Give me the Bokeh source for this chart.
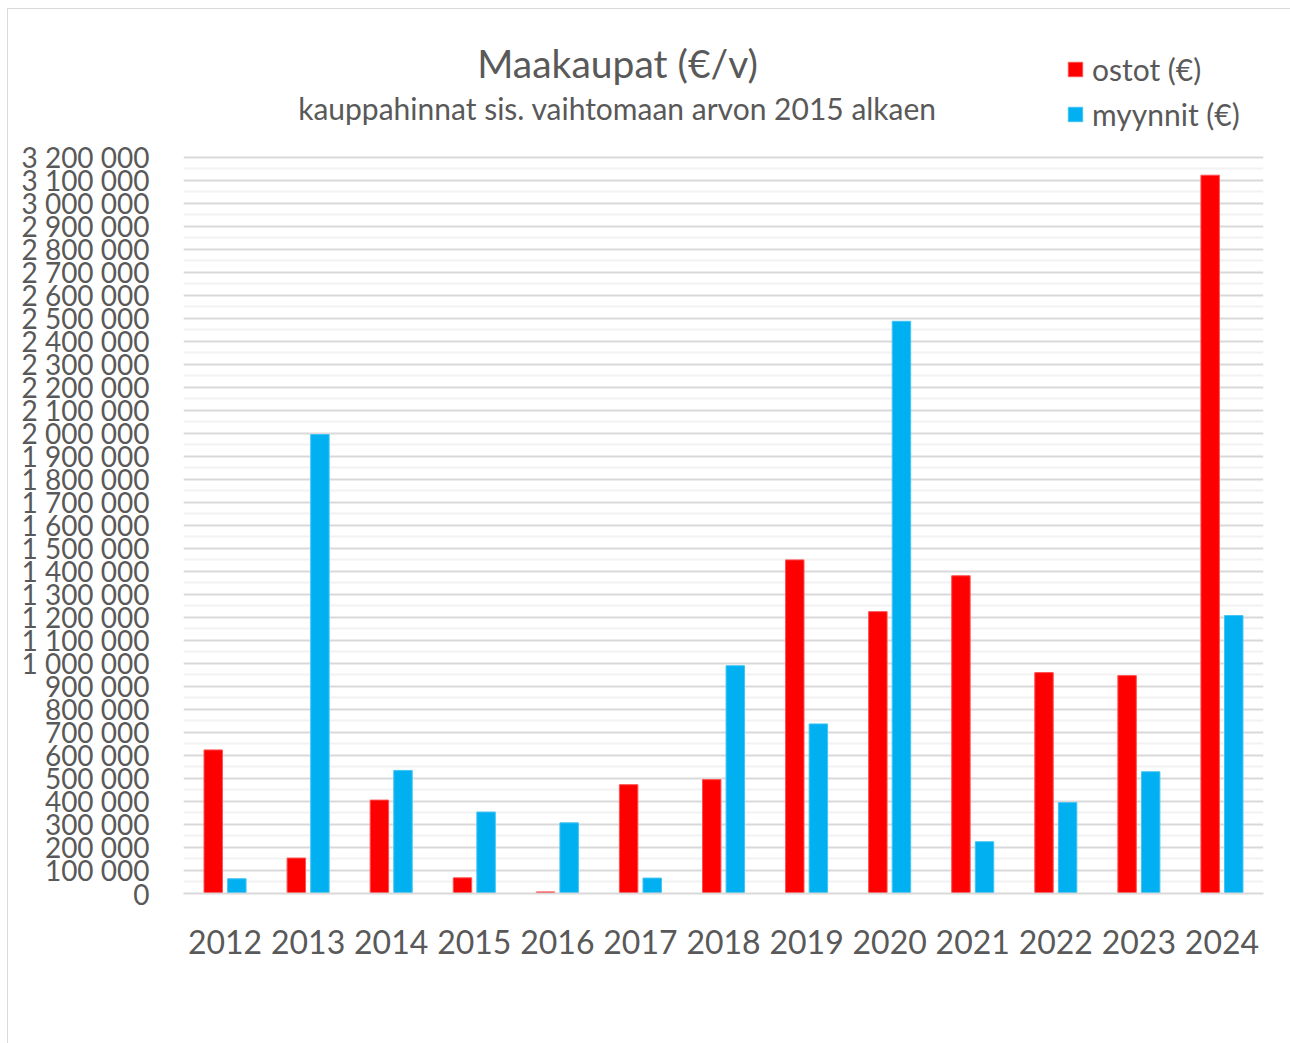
from bokeh.plotting import figure
from bokeh.models import (Range1d, FixedTicker, CustomJSTickFormatter, Label,
                          Legend, LegendItem, ColumnDataSource)
from bokeh.embed import file_html
from bokeh.resources import INLINE

years = ["2012", "2013", "2014", "2015", "2016", "2017", "2018",
         "2019", "2020", "2021", "2022", "2023", "2024"]
ostot = [624000, 154000, 406000, 68000, 7000, 473000, 495000,
         1450000, 1225000, 1381000, 960000, 947000, 3122000]
myynnit = [64000, 1995000, 535000, 354000, 307000, 67000, 990000,
           737000, 2487000, 225000, 395000, 529000, 1208000]
y_ticks = list(range(0, 3200001, 100000))
y_minor = list(range(50000, 3200001, 100000))

title_text = "Maakaupat (€/v)"
subtitle_text = "kauppahinnat sis. vaihtomaan arvon 2015 alkaen"
label_ostot = "ostot (€)"
label_myynnit = "myynnit (€)"

FONT = "Lato"
TXT = "#595959"

idx = list(range(len(years)))
src = ColumnDataSource(dict(
    xr=[i - 0.142 for i in idx], xb=[i + 0.142 for i in idx],
    ostot=ostot, myynnit=myynnit))

# frame extends above the top tick so that title and legend live inside it
W, H = 1283, 1035
p = figure(width=W, height=H, output_backend="svg", toolbar_location=None,
           x_range=Range1d(-0.5, len(years) - 0.5), y_range=Range1d(0, 3790000),
           min_border_left=175, min_border_right=28, min_border_top=12,
           min_border_bottom=151)
p.styles = {"margin-left": "7px", "margin-top": "8px",
            "border-left": "1px solid #d9d9d9", "border-top": "1px solid #d9d9d9"}
p.outline_line_color = None
p.background_fill_color = "white"
p.border_fill_color = "white"

r1 = p.vbar(x="xr", top="ostot", width=0.222, source=src,
            fill_color="#FF0000", line_color="#FF5050", line_width=1)
r2 = p.vbar(x="xb", top="myynnit", width=0.222, source=src,
            fill_color="#00B0F0", line_color="#40C4F4", line_width=1)

# y axis
p.yaxis.ticker = FixedTicker(ticks=y_ticks, minor_ticks=y_minor)
p.yaxis.formatter = CustomJSTickFormatter(
    code='return tick.toFixed(0).replace(/\\B(?=(\\d{3})+(?!\\d))/g, " ");')
p.yaxis.axis_line_color = None
p.yaxis.major_tick_line_color = None
p.yaxis.minor_tick_line_color = None
p.yaxis.major_label_text_font = FONT
p.yaxis.major_label_text_font_size = "28px"
p.yaxis.major_label_text_color = TXT
p.yaxis.major_label_standoff = 28

p.ygrid.grid_line_color = "#d9d9d9"
p.ygrid.grid_line_width = 2
p.ygrid.minor_grid_line_color = "#f2f2f2"
p.ygrid.minor_grid_line_width = 2
p.xgrid.grid_line_color = None

# x axis
p.xaxis.ticker = FixedTicker(ticks=idx)
p.xaxis.major_label_overrides = {i: y for i, y in enumerate(years)}
p.xaxis.axis_line_color = "#d9d9d9"
p.xaxis.axis_line_width = 2
p.xaxis.major_tick_line_color = None
p.xaxis.minor_tick_line_color = None
p.xaxis.major_label_text_font = FONT
p.xaxis.major_label_text_font_size = "32px"
p.xaxis.major_label_text_color = TXT
p.xaxis.major_label_standoff = 30

# titles (screen units relative to frame bottom-left)
p.add_layout(Label(x=434, y=831, x_units="screen", y_units="screen",
                   text=title_text, text_align="center", text_baseline="alphabetic",
                   text_font=FONT, text_font_size="39px", text_color=TXT))
p.add_layout(Label(x=434, y=786, x_units="screen", y_units="screen",
                   text=subtitle_text, text_align="center", text_baseline="alphabetic",
                   text_font=FONT, text_font_size="30px", text_color=TXT))

legend = Legend(items=[LegendItem(label=label_ostot, renderers=[r1]),
                       LegendItem(label=label_myynnit, renderers=[r2])],
                location=(883, 761), orientation="vertical",
                glyph_width=18, glyph_height=18, label_height=36,
                spacing=9, padding=0, margin=0, label_standoff=8,
                label_text_font=FONT, label_text_font_size="30px",
                label_text_color=TXT, border_line_color=None,
                background_fill_alpha=0)
p.add_layout(legend, "center")

open("out.html", "w").write(file_html(p, INLINE))
